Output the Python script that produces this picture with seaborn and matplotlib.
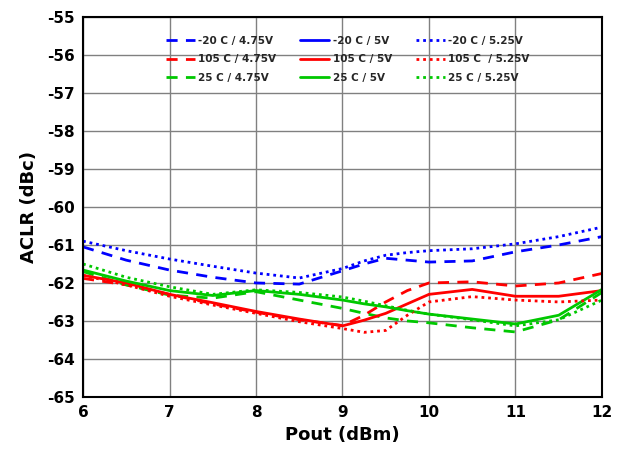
import matplotlib
matplotlib.use("Agg")
import matplotlib.pyplot as plt
from matplotlib.lines import Line2D
import seaborn as sns
import pandas as pd

pout = [6, 6.5, 7, 7.5, 8, 8.5, 9, 9.25, 9.5, 9.75, 10, 10.5, 11, 11.5, 12]

m20_475 = [-61.05, -61.4, -61.66, -61.85, -62.0, -62.03, -61.68, -61.5, -61.35, -61.4, -61.45, -61.42, -61.18, -61.0, -60.78]
m20_525 = [-60.9, -61.15, -61.37, -61.56, -61.74, -61.87, -61.62, -61.42, -61.27, -61.2, -61.15, -61.1, -60.97, -60.78, -60.53]

h105_475 = [-61.88, -62.05, -62.3, -62.55, -62.77, -62.97, -63.12, -62.85, -62.5, -62.2, -62.0, -61.97, -62.08, -62.0, -61.75]
h105_500 = [-61.8, -62.0, -62.3, -62.52, -62.75, -62.95, -63.13, -62.98, -62.8, -62.55, -62.3, -62.17, -62.35, -62.35, -62.2]
h105_525 = [-61.8, -62.05, -62.35, -62.58, -62.8, -63.02, -63.2, -63.3, -63.25, -62.85, -62.5, -62.36, -62.45, -62.5, -62.45]

r25_475 = [-61.7, -62.05, -62.32, -62.4, -62.23, -62.45, -62.67, -62.8, -62.92, -63.0, -63.05, -63.18, -63.29, -62.97, -62.25]
r25_500 = [-61.66, -61.95, -62.2, -62.33, -62.2, -62.3, -62.45, -62.55, -62.63, -62.73, -62.82, -62.95, -63.08, -62.85, -62.17]
r25_525 = [-61.5, -61.85, -62.1, -62.3, -62.18, -62.25, -62.37, -62.48, -62.6, -62.72, -62.82, -62.97, -63.13, -62.97, -62.45]

labels = [
    "-20 C / 4.75V", "105 C / 4.75V", "25 C / 4.75V",
    "-20 C / 5V", "105 C / 5V", "25 C / 5V",
    "-20 C / 5.25V", "105 C  / 5.25V", "25 C / 5.25V",
]
# -20 C / 5V has no visible curve in the reference (legend entry only)
series = [m20_475, h105_475, r25_475, None, h105_500, r25_500, m20_525, h105_525, r25_525]

blue, red, green = "#0000FF", "#FF0000", "#00C800"
colors = [blue, red, green] * 3
dashed = (0, (4, 3))
dotted = (0, (1, 1.4))
styles = [dashed] * 3 + ["-"] * 3 + [dotted] * 3

sns.set_style("white")
plt.rcParams["font.family"] = ["DejaVu Sans"]
plt.rcParams["axes.unicode_minus"] = False

fig = plt.figure(figsize=(6.29, 4.5), dpi=100)
ax = fig.add_axes([0.132, 0.118, 0.825, 0.844])

handles = []
for lab, vals, c, ls in zip(labels, series, colors, styles):
    if vals is not None:
        df = pd.DataFrame({"x": pout, "y": vals})
        sns.lineplot(data=df, x="x", y="y", ax=ax, color=c, linewidth=2.0, legend=False)
        ax.lines[-1].set_linestyle(ls)
    handles.append(Line2D([], [], color=c, linestyle=ls, linewidth=2.0))

ax.set_xlim(6, 12)
ax.set_ylim(-65, -55)
ax.set_xticks(range(6, 13))
ax.set_yticks(range(-65, -54))
ax.grid(True, color="#808080", linewidth=1.0)
ax.tick_params(axis="both", length=0, labelsize=11, pad=6, labelcolor="black")
for t in ax.get_xticklabels() + ax.get_yticklabels():
    t.set_fontweight("bold")
ax.set_xlabel("Pout (dBm)", fontsize=13, fontweight="bold", labelpad=4, color="black")
ax.set_ylabel("ACLR (dBc)", fontsize=13, fontweight="bold", labelpad=6, color="black")
for s in ax.spines.values():
    s.set_color("black")
    s.set_linewidth(1.5)

ax.legend(handles, labels, ncol=3, loc="upper center", bbox_to_anchor=(0.51, 0.975),
          frameon=False, prop={"size": 7.5, "weight": "bold"},
          handlelength=2.8, columnspacing=2.3, labelspacing=0.8, handletextpad=0.3)

fig.savefig("out.png", dpi=100)
